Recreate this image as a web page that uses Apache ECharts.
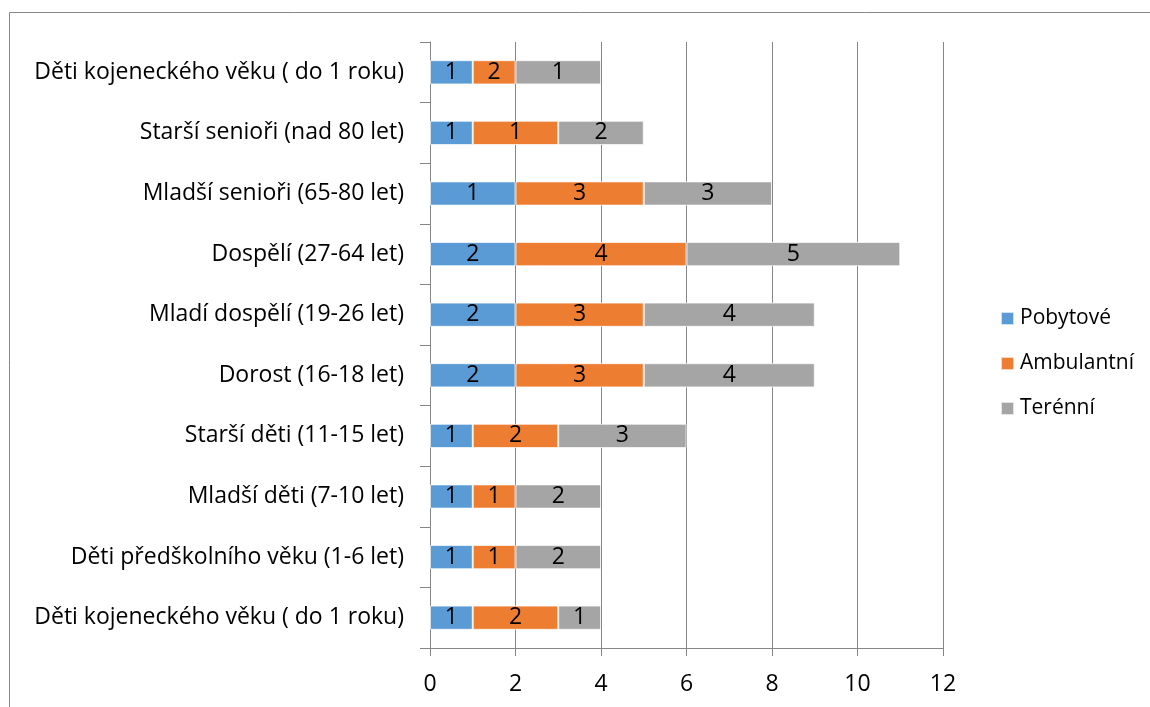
<!DOCTYPE html>
<html><head><meta charset="utf-8">
<script src="https://cdn.jsdelivr.net/npm/echarts@6/dist/echarts.min.js"></script>
<style>html,body{margin:0;padding:0;background:#fff}#c{width:1150px;height:707px}</style>
</head><body><div id="c"></div>
<script>
// categories bottom -> top
const categories = [
  'Děti kojeneckého věku ( do 1 roku)',
  'Děti předškolního věku (1-6 let)',
  'Mladší děti (7-10 let)',
  'Starší děti (11-15 let)',
  'Dorost (16-18 let)',
  'Mladí dospělí (19-26 let)',
  'Dospělí (27-64 let)',
  'Mladší senioři (65-80 let)',
  'Starší senioři (nad 80 let)',
  'Děti kojeneckého věku ( do 1 roku)'
];
const seriesNames = ['Pobytové', 'Ambulantní', 'Terénní'];
// bar lengths
const pobytove   = [1, 1, 1, 1, 2, 2, 2, 2, 1, 1];
const ambulantni = [2, 1, 1, 2, 3, 3, 4, 3, 2, 1];
const terenni    = [1, 2, 2, 3, 4, 4, 5, 3, 2, 2];
// data labels as shown
const pobytoveLabels   = [1, 1, 1, 1, 2, 2, 2, 1, 1, 1];
const ambulantniLabels = [2, 1, 1, 2, 3, 3, 4, 3, 1, 2];
const terenniLabels    = [1, 2, 2, 3, 4, 4, 5, 3, 2, 1];
const xTicks = [0, 2, 4, 6, 8, 10, 12];

const colors = ['#5B9BD5', '#ED7D31', '#A5A5A5'];
const FONT = 'Open Sans';
const values = [pobytove, ambulantni, terenni];
const labels = [pobytoveLabels, ambulantniLabels, terenniLabels];

const chart = echarts.init(document.getElementById('c'), null, {renderer: 'canvas'});
chart.setOption({
  animation: false,
  textStyle: {fontFamily: FONT},
  graphic: [{
    type: 'rect', shape: {x: 9.5, y: 12.5, width: 1300, height: 900},
    style: {fill: 'none', stroke: '#888', lineWidth: 1}, z: -1
  }],
  legend: {
    orient: 'vertical', left: 995, top: 301, itemWidth: 13, itemHeight: 13,
    itemGap: 20, icon: 'rect',
    textStyle: {fontSize: 21, lineHeight: 25, color: '#000', fontFamily: FONT, padding: [0, 0, 0, 1]},
    data: seriesNames
  },
  grid: {left: 430, right: 207, top: 42, bottom: 59, containLabel: false},
  xAxis: {
    type: 'value', min: 0, max: 12, interval: 2,
    axisLine: {show: true, lineStyle: {color: '#868686', width: 1}},
    axisTick: {show: true, length: 8, lineStyle: {color: '#868686'}},
    axisLabel: {fontSize: 23, color: '#000', margin: 25, fontFamily: FONT,
      formatter: v => xTicks.includes(v) ? String(v) : ''},
    splitLine: {show: true, lineStyle: {color: '#868686', width: 1}}
  },
  yAxis: {
    type: 'category', data: categories,
    axisLine: {show: true, lineStyle: {color: '#868686', width: 1}},
    axisTick: {show: true, length: 10, lineStyle: {color: '#868686'}},
    axisLabel: {fontSize: 23, color: '#000', margin: 26, fontFamily: FONT}
  },
  series: seriesNames.map((name, i) => ({
    name, type: 'bar', stack: 'a', barCategoryGap: '60%',
    data: values[i],
    itemStyle: {color: colors[i], borderColor: 'rgba(255,255,255,0.7)', borderWidth: 1},
    label: {
      show: true, position: 'inside', color: '#000', fontSize: 23, fontFamily: FONT,
      formatter: p => String(labels[i][p.dataIndex])
    }
  }))
});
</script></body></html>
